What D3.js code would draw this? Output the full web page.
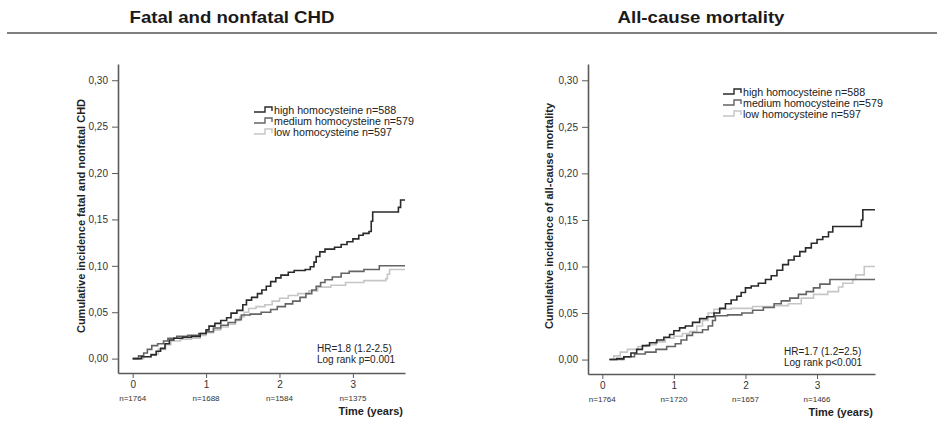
<!DOCTYPE html>
<html>
<head>
<meta charset="utf-8">
<script src="https://cdn.jsdelivr.net/npm/d3@7"></script>
<style>
  body { margin: 0; background: #fff; }
  svg { display: block; }
  text { font-family: 'Liberation Sans', Arial, sans-serif; }
</style>
</head>
<body>
<div class="chart"></div>
<script>
// data
var years = [0, 1, 2, 3];
var yTicks = [0, 0.05, 0.10, 0.15, 0.20, 0.25, 0.30];
var groups = ['high homocysteine n=588', 'medium homocysteine n=579', 'low homocysteine n=597'];

var chdAtRisk  = ['n=1764', 'n=1688', 'n=1584', 'n=1375'];
var mortAtRisk = ['n=1764', 'n=1720', 'n=1657', 'n=1466'];

// [time in years, cumulative incidence]
var chdHigh = [[0,0],[0.12,0.002],[0.25,0.004],[0.32,0.008],[0.38,0.011],[0.44,0.016],[0.5,0.02],[0.56,0.022],[0.68,0.023],[0.8,0.024],[0.92,0.027],[1.0,0.031],[1.04,0.035],[1.12,0.038],[1.2,0.041],[1.28,0.044],[1.34,0.049],[1.42,0.052],[1.5,0.058],[1.55,0.063],[1.62,0.066],[1.7,0.07],[1.76,0.074],[1.82,0.078],[1.88,0.083],[1.95,0.087],[2.02,0.09],[2.12,0.093],[2.2,0.095],[2.35,0.096],[2.42,0.099],[2.47,0.104],[2.5,0.11],[2.55,0.115],[2.62,0.118],[2.75,0.12],[2.84,0.123],[2.92,0.126],[3.0,0.129],[3.08,0.133],[3.14,0.135],[3.22,0.137],[3.25,0.148],[3.27,0.158],[3.6,0.158],[3.62,0.163],[3.65,0.171],[3.71,0.171]];
var chdMedium = [[0,0],[0.08,0.003],[0.15,0.006],[0.2,0.01],[0.26,0.014],[0.34,0.016],[0.42,0.019],[0.48,0.022],[0.6,0.024],[0.75,0.025],[0.9,0.027],[1.0,0.029],[1.1,0.033],[1.2,0.036],[1.3,0.039],[1.4,0.042],[1.48,0.047],[1.6,0.048],[1.75,0.05],[1.88,0.053],[1.97,0.056],[2.08,0.059],[2.18,0.062],[2.28,0.066],[2.36,0.07],[2.44,0.074],[2.5,0.078],[2.56,0.082],[2.62,0.085],[2.72,0.088],[2.84,0.092],[2.95,0.094],[3.15,0.096],[3.36,0.1],[3.71,0.1]];
var chdLow = [[0,0],[0.15,0.002],[0.25,0.005],[0.35,0.01],[0.45,0.015],[0.52,0.019],[0.65,0.021],[0.8,0.022],[0.92,0.025],[1.0,0.028],[1.1,0.031],[1.2,0.034],[1.3,0.037],[1.4,0.041],[1.46,0.045],[1.52,0.05],[1.58,0.054],[1.68,0.056],[1.8,0.058],[1.9,0.062],[2.0,0.065],[2.12,0.068],[2.25,0.07],[2.4,0.073],[2.52,0.077],[2.7,0.079],[2.9,0.082],[3.15,0.084],[3.45,0.086],[3.47,0.091],[3.5,0.096],[3.71,0.096]];

var mortHigh = [[0.1,0],[0.2,0.001],[0.3,0.003],[0.4,0.007],[0.48,0.011],[0.56,0.015],[0.66,0.018],[0.76,0.021],[0.86,0.024],[0.94,0.027],[1.0,0.031],[1.08,0.034],[1.16,0.036],[1.26,0.04],[1.36,0.044],[1.46,0.046],[1.56,0.05],[1.64,0.055],[1.72,0.06],[1.8,0.064],[1.88,0.068],[1.94,0.072],[2.0,0.077],[2.08,0.079],[2.18,0.082],[2.28,0.086],[2.36,0.09],[2.44,0.096],[2.52,0.102],[2.6,0.107],[2.68,0.111],[2.76,0.116],[2.84,0.12],[2.92,0.125],[3.0,0.129],[3.08,0.132],[3.16,0.137],[3.22,0.143],[3.6,0.143],[3.62,0.15],[3.64,0.161],[3.81,0.161]];
var mortMedium = [[0.1,0],[0.3,0.003],[0.45,0.006],[0.6,0.008],[0.75,0.011],[0.9,0.014],[1.02,0.017],[1.1,0.021],[1.18,0.026],[1.26,0.029],[1.4,0.032],[1.48,0.036],[1.54,0.042],[1.58,0.047],[1.75,0.048],[1.95,0.05],[2.1,0.053],[2.25,0.056],[2.4,0.06],[2.5,0.063],[2.62,0.066],[2.74,0.07],[2.85,0.073],[2.95,0.077],[3.04,0.081],[3.18,0.086],[3.81,0.086]];
var mortLow = [[0.1,0],[0.16,0.004],[0.25,0.008],[0.35,0.011],[0.5,0.014],[0.62,0.016],[0.75,0.019],[0.88,0.023],[1.0,0.025],[1.12,0.028],[1.22,0.03],[1.32,0.036],[1.4,0.042],[1.48,0.05],[1.56,0.054],[1.8,0.055],[2.1,0.057],[2.4,0.058],[2.6,0.06],[2.78,0.066],[2.95,0.07],[3.15,0.073],[3.3,0.078],[3.36,0.082],[3.5,0.086],[3.54,0.091],[3.66,0.1],[3.81,0.1]];

var colors = ['#2a2a2a', '#646464', '#c6c6c6'];
var axisColor = '#5a5a5a';

var svg = d3.select('.chart')
    .append('svg')
    .attr('width', 937)
    .attr('height', 426);

// header
svg.append('line')
    .attr('x1', 7).attr('x2', 937)
    .attr('y1', 33).attr('y2', 33)
    .attr('stroke', '#555').attr('stroke-width', 1.5);

var fmt = function(v){ return d3.format('.2f')(v).replace('.', ','); };

function panel(opt) {
    var x = d3.scaleLinear().domain([-0.2, opt.tMax]).range([opt.left, opt.right]);
    var y = d3.scaleLinear().domain([-0.0155, 0.3175]).range([opt.bottom, opt.top]);

    svg.append('text')
        .attr('x', opt.titleX).attr('y', 23)
        .attr('text-anchor', 'middle')
        .style('font-family', "'Liberation Sans Narrow', 'Liberation Sans', sans-serif")
        .style('font-weight', 'bold')
        .style('font-size', '17px')
        .attr('textLength', opt.titleW)
        .attr('lengthAdjust', 'spacingAndGlyphs')
        .attr('fill', '#1a1a1a')
        .text(opt.title);

    var yAxis = d3.axisLeft(y).tickValues(yTicks).tickFormat(fmt).tickSize(6).tickSizeOuter(0);
    var gy = svg.append('g')
        .attr('transform', 'translate(' + opt.left + ',0)')
        .call(yAxis);
    gy.selectAll('text').attr('font-size', 10).attr('fill', '#333').attr('dx', '-1');

    var xAxis = d3.axisBottom(x).tickValues(years).tickFormat(d3.format('d')).tickSize(5).tickSizeOuter(0);
    var gx = svg.append('g')
        .attr('transform', 'translate(0,' + opt.bottom + ')')
        .call(xAxis);
    gx.selectAll('text').attr('font-size', 10).attr('fill', '#333').attr('y', 8);

    [gx, gy].forEach(function(g){
        g.select('.domain').attr('stroke', axisColor).attr('stroke-width', 1.6);
        g.selectAll('.tick line').attr('stroke', axisColor).attr('stroke-width', 1);
    });

    svg.selectAll(null)
        .data(opt.atRisk)
        .enter()
        .append('text')
        .attr('x', function(d, i){ return x(years[i]); })
        .attr('y', opt.bottom + 28)
        .attr('text-anchor', 'middle')
        .attr('font-size', 8)
        .attr('fill', '#333')
        .text(function(d){ return d; });

    svg.append('text')
        .attr('x', opt.right - 2).attr('y', opt.bottom + 42)
        .attr('text-anchor', 'end')
        .attr('font-size', 11).attr('font-weight', 'bold')
        .attr('fill', '#222')
        .text('Time (years)');

    svg.append('text')
        .attr('transform', 'translate(' + opt.yTitleX + ',' + opt.yTitleY + ') rotate(-90)')
        .attr('text-anchor', 'middle')
        .attr('font-size', 11).attr('font-weight', 'bold')
        .attr('fill', '#222')
        .text(opt.yTitle);

    var line = d3.line()
        .x(function(d){ return x(d[0]); })
        .y(function(d){ return y(d[1]); })
        .curve(d3.curveStepAfter);

    // draw light first so dark stays on top
    opt.series.slice().reverse().forEach(function(s, i){
        svg.append('path')
            .datum(s)
            .attr('d', line)
            .attr('fill', 'none')
            .attr('stroke', colors[2 - i])
            .attr('stroke-width', 1.6);
    });

    // legend
    var lg = svg.append('g').attr('transform', 'translate(' + opt.legX + ',' + opt.legY + ')');
    groups.forEach(function(g, i){
        lg.append('path')
            .attr('d', 'M0,' + (i * 11 + 2) + 'H11V' + (i * 11 - 3) + 'H18V' + (i * 11 + 1))
            .attr('fill', 'none')
            .attr('stroke', colors[i])
            .attr('stroke-width', 1.4);
        lg.append('text')
            .attr('x', 20).attr('y', i * 11 + 3.5)
            .attr('font-size', 10.7).attr('fill', '#222')
            .text(g);
    });

    svg.selectAll(null)
        .data(opt.stats)
        .enter()
        .append('text')
        .attr('x', opt.statX)
        .attr('y', function(d, i){ return opt.statY + i * 11; })
        .attr('font-size', 10).attr('fill', '#222')
        .text(function(d){ return d; });
}

panel({
    title: 'Fatal and nonfatal CHD', titleX: 232, titleW: 205,
    left: 118, right: 405, top: 64, bottom: 373, tMax: 3.71,
    yTitle: 'Cumulative incidence fatal and nonfatal CHD', yTitleX: 85, yTitleY: 216,
    atRisk: chdAtRisk,
    series: [chdHigh, chdMedium, chdLow],
    legX: 254, legY: 110,
    stats: ['HR=1.8 (1.2-2.5)', 'Log rank p=0.001'], statX: 317, statY: 352
});

panel({
    title: 'All-cause mortality', titleX: 701, titleW: 167,
    left: 588, right: 875, top: 64, bottom: 374, tMax: 3.81,
    yTitle: 'Cumulative incidence of all-cause mortality', yTitleX: 553, yTitleY: 216,
    atRisk: mortAtRisk,
    series: [mortHigh, mortMedium, mortLow],
    legX: 723, legY: 92,
    stats: ['HR=1.7 (1.2=2.5)', 'Log rank p<0.001'], statX: 784, statY: 355
});
</script>
</body>
</html>
